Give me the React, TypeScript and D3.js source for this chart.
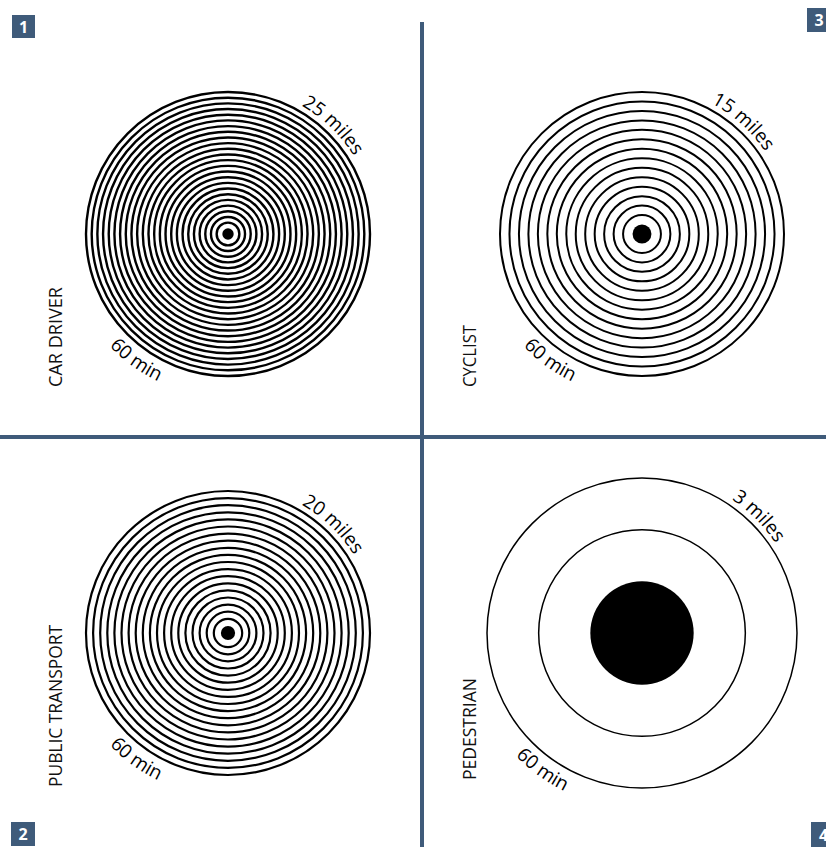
import * as d3 from 'd3'

// panel order: top-left, bottom-left, top-right, bottom-right
const modes = ['CAR DRIVER', 'PUBLIC TRANSPORT', 'CYCLIST', 'PEDESTRIAN']
const miles = [25, 20, 15, 3]
const minutes = [60, 60, 60, 60]
const badges = ['1', '2', '3', '4']

const W = 826
const H = 847
const SLATE = '#3f5b7a'
const FONT = '"Open Sans", "DejaVu Sans", sans-serif'

const centers: [number, number][] = [
  [228, 234],
  [228, 633],
  [642, 234],
  [642, 633],
]
const outerR = [142, 142, 142, 155]
const ringWidth = [2.4, 2.2, 2, 1.5]
const labelX = [62, 62, 476, 476]
const labelBottom = [387, 787, 387, 780]
const labelLen = [100, 162, 62, 102]
const topAngle = [44, 44, 42, 45]
const badgeBoxes: [number, number, number][] = [
  [12, 15, 23],
  [11, 822, 24],
  [807, 8, 24],
  [811, 822, 25],
]

const rad = (deg: number) => (deg * Math.PI) / 180

// angle measured clockwise from 12 o'clock
function arcPath(cx: number, cy: number, r: number, fromDeg: number, toDeg: number, ccw: boolean) {
  const p = d3.path()
  const a0 = rad(fromDeg - 90)
  const a1 = rad(toDeg - 90)
  p.moveTo(cx + r * Math.cos(a0), cy + r * Math.sin(a0))
  p.arc(cx, cy, r, a0, a1, ccw)
  return p.toString()
}

function Panel({ i }: { i: number }) {
  const [cx, cy] = centers[i]
  const R = outerR[i]
  const n = miles[i]
  const r = d3.scaleLinear().domain([0, n]).range([0, R])
  const rings = d3.range(2, n + 1)
  const topId = `top-${i}`
  const botId = `bot-${i}`
  const ta = topAngle[i]

  return (
    <g>
      {rings.map(k => (
        <circle key={k} cx={cx} cy={cy} r={r(k)} fill="none" stroke="#000" strokeWidth={ringWidth[i]} />
      ))}
      <circle cx={cx} cy={cy} r={r(1)} fill="#000" />

      <path id={topId} d={arcPath(cx, cy, R + 6, ta - 90, ta + 90, false)} fill="none" />
      <path id={botId} d={arcPath(cx, cy, R + 21, 306, 126, true)} fill="none" />
      <text fontFamily={FONT} fontSize={19} fill="#000">
        <textPath href={`#${topId}`} startOffset="50%" textAnchor="middle">
          {`${miles[i]} miles`}
        </textPath>
      </text>
      <text fontFamily={FONT} fontSize={19} fill="#000">
        <textPath href={`#${botId}`} startOffset="50%" textAnchor="middle">
          {`${minutes[i]} min`}
        </textPath>
      </text>

      <text
        transform={`translate(${labelX[i]},${labelBottom[i]}) rotate(-90)`}
        fontFamily={FONT}
        fontSize={19}
        textLength={labelLen[i]}
        lengthAdjust="spacingAndGlyphs"
        fill="#111"
      >
        {modes[i]}
      </text>
    </g>
  )
}

export default function App() {
  return (
    <svg
      width={W}
      height={H}
      viewBox={`0 0 ${W} ${H}`}
      style={{ position: 'absolute', left: 0, top: 0, background: '#fff' }}
    >
      <rect width={W} height={H} fill="#fff" />
      <line x1={422} x2={422} y1={22} y2={H} stroke={SLATE} strokeWidth={4} />
      <line x1={0} x2={W} y1={437} y2={437} stroke={SLATE} strokeWidth={4} />
      {modes.map((_, i) => (
        <Panel key={i} i={i} />
      ))}
      {badges.map((b, i) => {
        const [x, y, s] = badgeBoxes[i]
        return (
          <g key={b}>
            <rect x={x} y={y} width={s} height={s} fill={SLATE} />
            <text
              x={x + s / 2}
              y={y + s / 2 + 6}
              textAnchor="middle"
              fontFamily={FONT}
              fontWeight={700}
              fontSize={16}
              fill="#fff"
            >
              {b}
            </text>
          </g>
        )
      })}
    </svg>
  )
}
